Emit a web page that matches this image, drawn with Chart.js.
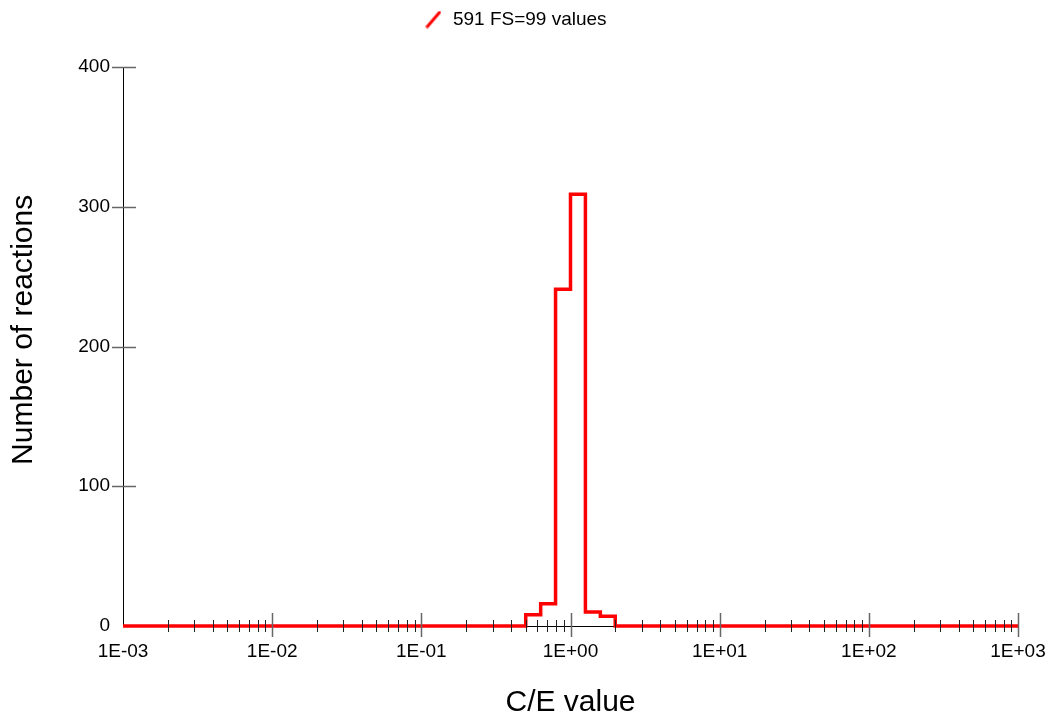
<!DOCTYPE html>
<html>
<head>
<meta charset="utf-8">
<script src="https://cdn.jsdelivr.net/npm/chart.js@4.4.0/dist/chart.umd.min.js"></script>
<style>
  html, body { margin: 0; padding: 0; background: #fff; }
  #wrap { width: 1049px; height: 715px; }
</style>
</head>
<body>
<div id="wrap"><canvas id="chart"></canvas></div>
<script>
// histogram bins (C/E value edges) and counts per bin
const binEdges = [0.001, 0.501, 0.631, 0.794, 1.0, 1.259, 1.585, 1.995, 1000];
const binCounts = [0, 8, 16, 241, 309, 10, 7, 0];
const seriesLabel = '591 FS=99 values';

// axis ticks
const decadeTicks = [1e-3, 1e-2, 1e-1, 1, 10, 100, 1000];
const minorMultipliers = [2, 3, 4, 5, 6, 7, 8, 9];
const yTicks = [0, 100, 200, 300, 400];

const FONT = 'Arial, "Liberation Sans", Helvetica, sans-serif';

// step points: each count starts at its left edge, last edge closes at 0
const points = binEdges.map((x, i) => ({ x, y: i < binCounts.length ? binCounts[i] : 0 }));

function fmtExp(v) {
  const e = Math.round(Math.log10(v));
  return '1E' + (e < 0 ? '-' : '+') + String(Math.abs(e)).padStart(2, '0');
}

// slanted red line used as legend symbol
const legendIcon = document.createElement('canvas');
legendIcon.width = 16;
legendIcon.height = 18;
(() => {
  const c = legendIcon.getContext('2d');
  c.strokeStyle = '#ff0000';
  c.lineWidth = 3;
  c.lineCap = 'round';
  c.beginPath();
  c.moveTo(2, 16);
  c.lineTo(14, 2);
  c.stroke();
})();

// fixed legend height so the plot starts where the reference does,
// and nudge it to be centred on the page rather than on the padded box
const legendHeight = {
  id: 'legendHeight',
  beforeInit(chart) {
    const fit = chart.legend.fit;
    chart.legend.fit = function () {
      fit.call(this);
      this.height = 67;
    };
  },
  afterLayout(chart) {
    chart.legend.left += 6;
    chart.legend.right += 6;
  }
};

// tick marks crossing the axes, drawn over the series
const axisTicks = {
  id: 'axisTicks',
  afterDatasetsDraw(chart) {
    const { ctx, scales: { x, y } } = chart;
    const y0 = y.getPixelForValue(0);
    const x0 = x.left;
    const seg = (a, b, c, d) => { ctx.beginPath(); ctx.moveTo(a, b); ctx.lineTo(c, d); ctx.stroke(); };
    ctx.save();
    ctx.lineWidth = 1;
    ctx.strokeStyle = '#222';
    decadeTicks.slice(0, -1).forEach(d => minorMultipliers.forEach(m => {
      const px = Math.round(x.getPixelForValue(d * m)) + 0.5;
      seg(px, y0 - 6, px, y0 + 6);
    }));
    ctx.strokeStyle = '#666';
    ctx.lineWidth = 1.5;
    decadeTicks.slice(1).forEach(d => {
      const px = Math.round(x.getPixelForValue(d)) + 0.5;
      seg(px, y0 - 13, px, y0 + 11);
    });
    yTicks.slice(1).forEach(v => {
      const py = Math.round(y.getPixelForValue(v)) + 0.5;
      seg(x0 - 11, py, x0 + 13, py);
    });
    ctx.restore();
  }
};

new Chart(document.getElementById('chart'), {
  type: 'line',
  data: {
    datasets: [{
      label: seriesLabel,
      data: points,
      stepped: 'before',
      borderColor: '#ff0000',
      backgroundColor: '#ff0000',
      borderWidth: 3.5,
      pointRadius: 0,
      pointStyle: legendIcon,
      fill: false,
      clip: 6,
    }],
  },
  options: {
    responsive: true,
    maintainAspectRatio: false,
    animation: false,
    layout: { padding: { right: 31 } },
    plugins: {
      tooltip: { enabled: false },
      legend: {
        display: true,
        position: 'top',
        labels: {
          usePointStyle: true,
          pointStyleWidth: 20,
          color: '#000',
          font: { family: FONT, size: 19 },
          padding: 10,
        },
      },
    },
    scales: {
      x: {
        type: 'logarithmic',
        min: 0.001,
        max: 1000,
        afterBuildTicks: scale => { scale.ticks = decadeTicks.map(v => ({ value: v })); },
        afterFit: scale => { scale.height = 89; scale.paddingRight = 0; },
        grid: { display: false },
        border: { display: true, color: '#000', width: 1 },
        ticks: {
          autoSkip: false,
          maxRotation: 0,
          padding: 6,
          color: '#000',
          font: { family: FONT, size: 19 },
          callback: v => fmtExp(v),
        },
        title: {
          display: true,
          text: 'C/E value',
          color: '#000',
          font: { family: FONT, size: 30 },
          padding: { top: 0, bottom: -6 },
        },
      },
      y: {
        min: 0,
        max: 400,
        afterBuildTicks: scale => { scale.ticks = yTicks.map(v => ({ value: v })); },
        afterFit: scale => { scale.width = 123; },
        grid: { display: false },
        border: { display: true, color: '#000', width: 1 },
        ticks: {
          padding: 5,
          color: '#000',
          font: { family: FONT, size: 19 },
        },
        title: {
          display: true,
          text: '    Number of reactions',
          color: '#000',
          font: { family: FONT, size: 30 },
          padding: { top: 6, bottom: 0 },
        },
      },
    },
  },
  plugins: [legendHeight, axisTicks],
});
</script>
</body>
</html>
